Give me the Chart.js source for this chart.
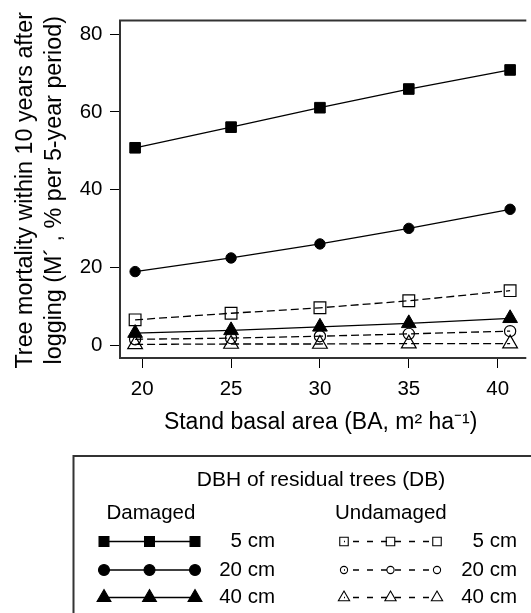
<!DOCTYPE html>
<html>
<head>
<meta charset="utf-8">
<script src="https://cdn.jsdelivr.net/npm/chart.js@4.4.0/dist/chart.umd.min.js"></script>
<style>
    html, body { margin: 0; padding: 0; background: #fff; }
    #wrap { width: 531px; height: 613px; }
</style>
</head>
<body>
<div id="wrap"><canvas id="mortalityChart" width="531" height="613"></canvas></div>
<script>
// stand basal area (m2/ha) at which the curves were evaluated
const basalArea = [19.6, 25, 30, 35, 40.7];

// mortality, % per 5-year period
const damaged5 = [50.8, 56.1, 61.1, 65.9, 70.8];
const damaged20 = [19.0, 22.5, 26.1, 30.1, 35.0];
const damaged40 = [3.2, 3.9, 4.8, 5.7, 7.0];
const undamaged5 = [6.6, 8.3, 9.7, 11.5, 14.1];
const undamaged20 = [1.6, 1.9, 2.4, 3.0, 3.7];
const undamaged40 = [0.3, 0.4, 0.4, 0.5, 0.5];

const xTicks = [20, 25, 30, 35, 40];
const yTicks = [0, 20, 40, 60, 80];

const yTitle = ['Tree mortality within 10 years after', 'logging (M\u00b4 , % per 5-year period)'];
const xTitle = 'Stand basal area (BA, m\u00b2 ha\u207b\u00b9)';
const legendTitle = 'DBH of residual trees (DB)';
const groupLabels = ['Damaged', 'Undamaged'];
const sizeLabels = ['5 cm', '20 cm', '40 cm'];

const FONT = '"Liberation Sans", Arial, Helvetica, sans-serif';

function toPoints(values) {
    return values.map((v, i) => ({ x: basalArea[i], y: v }));
}

function series(label, values, style, radius, filled, dashed) {
    return {
        label: label,
        data: toPoints(values),
        borderColor: '#000',
        borderWidth: 1.3,
        borderDash: dashed ? [8, 4] : [],
        pointStyle: style,
        pointRadius: radius,
        pointHoverRadius: radius,
        pointBackgroundColor: filled ? '#000' : 'rgba(0,0,0,0)',
        pointBorderColor: '#000',
        pointBorderWidth: filled ? 1 : 1.2,
        tension: 0,
        fill: false
    };
}

// legend marker styles, in the same order as sizeLabels
const damagedMarks = [['rect', 7], ['circle', 5.5], ['triangle', 8]];
const undamagedMarks = [['rect', 6], ['circle', 3.6], ['triangle', 6.5]];

function drawSample(ctx, x0, x1, y, style, radius, filled, dashed) {
    ctx.save();
    ctx.strokeStyle = '#000';
    ctx.lineWidth = 1.3;
    ctx.setLineDash(dashed ? [6, 8] : []);
    ctx.lineDashOffset = dashed ? 5 : 0;
    ctx.beginPath();
    ctx.moveTo(x0, y);
    ctx.lineTo(x1, y);
    ctx.stroke();
    ctx.setLineDash([]);
    ctx.fillStyle = filled ? '#000' : 'rgba(0,0,0,0)';
    ctx.lineWidth = 1.1;
    [x0, (x0 + x1) / 2, x1].forEach(function(x) {
        Chart.helpers.drawPoint(ctx, { pointStyle: style, radius: radius, rotation: 0, borderWidth: 1.1 }, x, y);
    });
    ctx.restore();
}

const frameAndLegend = {
    id: 'frameAndLegend',
    afterDraw(chart) {
        const ctx = chart.ctx;
        const a = chart.chartArea;
        ctx.save();
        ctx.strokeStyle = '#333';
        ctx.lineWidth = 2;
        ctx.beginPath();
        ctx.moveTo(a.right + 5, a.top);
        ctx.lineTo(a.left, a.top);
        ctx.lineTo(a.left, a.bottom);
        ctx.lineTo(a.right + 5, a.bottom);
        ctx.stroke();

        // y axis title, two rotated lines (drawn here so the text is not squeezed)
        ctx.fillStyle = '#000';
        ctx.font = '23.3px ' + FONT;
        ctx.textAlign = 'center';
        ctx.textBaseline = 'alphabetic';
        const midY = (a.top + a.bottom) / 2 + 1;
        [31.5, 61].forEach(function(x, i) {
            ctx.save();
            ctx.translate(x, midY);
            ctx.rotate(-Math.PI / 2);
            ctx.fillText(yTitle[i], 0, 0);
            ctx.restore();
        });

        // legend box (runs off the right and bottom edge like the original)
        ctx.strokeRect(73.5, 456, 500, 200);

        ctx.textBaseline = 'middle';
        ctx.font = '21px ' + FONT;
        ctx.textAlign = 'center';
        ctx.fillText(legendTitle, 321, 480);

        ctx.font = '20.5px ' + FONT;
        ctx.textAlign = 'left';
        ctx.fillText(groupLabels[0], 106.5, 513);
        ctx.fillText(groupLabels[1], 335, 513);

        const rows = [541.5, 570, 597.5];
        rows.forEach(function(y, i) {
            drawSample(ctx, 104, 195, y, damagedMarks[i][0], damagedMarks[i][1], true, false);
            drawSample(ctx, 344, 437, y, undamagedMarks[i][0], undamagedMarks[i][1], false, true);
            ctx.fillStyle = '#000';
            ctx.textAlign = 'right';
            ctx.fillText(sizeLabels[i], 275, y);
            ctx.fillText(sizeLabels[i], 517, y);
        });
        ctx.restore();
    }
};

const ctx = document.getElementById('mortalityChart').getContext('2d');
new Chart(ctx, {
    type: 'line',
    data: {
        datasets: [
            series('Damaged 5 cm', damaged5, 'rect', 7.5, true, false),
            series('Damaged 20 cm', damaged20, 'circle', 5.2, true, false),
            series('Damaged 40 cm', damaged40, 'triangle', 8.5, true, false),
            series('Undamaged 5 cm', undamaged5, 'rect', 8.3, false, true),
            series('Undamaged 20 cm', undamaged20, 'circle', 5.6, false, true),
            series('Undamaged 40 cm', undamaged40, 'triangle', 8.5, false, true)
        ]
    },
    options: {
        responsive: false,
        animation: false,
        layout: { padding: { left: 0, right: 0, top: 20.5, bottom: 175 } },
        plugins: {
            legend: { display: false },
            tooltip: { enabled: false }
        },
        scales: {
            x: {
                type: 'linear',
                min: 18.75,
                max: 41.33,
                afterBuildTicks: function(scale) {
                    scale.ticks = xTicks.map(v => ({ value: v }));
                },
                afterFit: function(scale) { scale.height = 80; },
                grid: { display: true, drawOnChartArea: false, drawTicks: true, tickLength: 10, color: '#000', lineWidth: 1 },
                border: { display: false },
                ticks: { color: '#000', padding: 9, maxRotation: 0, font: { family: FONT, size: 20.5 } },
                title: {
                    display: true,
                    text: xTitle,
                    color: '#000',
                    font: { family: FONT, size: 23 },
                    padding: { top: 0, bottom: 1.7 }
                }
            },
            y: {
                min: -3.2,
                max: 83.5,
                afterBuildTicks: function(scale) {
                    scale.ticks = yTicks.map(v => ({ value: v }));
                },
                afterFit: function(scale) { scale.width = 120; },
                grid: { display: true, drawOnChartArea: false, drawTicks: true, tickLength: 10, color: '#000', lineWidth: 1 },
                border: { display: false },
                ticks: { color: '#000', padding: 7.5, font: { family: FONT, size: 20.5 } },
                title: { display: false }
            }
        }
    },
    plugins: [frameAndLegend]
});
</script>
</body>
</html>
